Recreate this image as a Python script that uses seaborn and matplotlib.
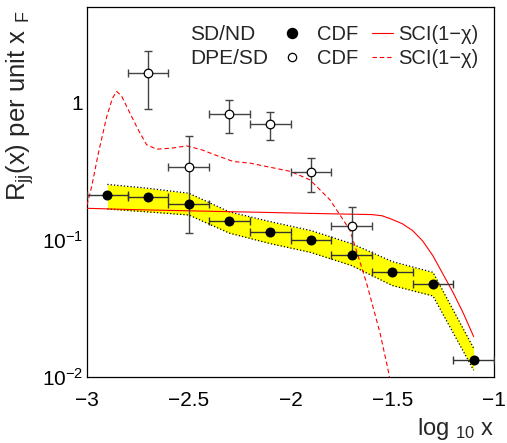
import numpy as np
import pandas as pd
import matplotlib
matplotlib.use("Agg")
import matplotlib.pyplot as plt
import matplotlib.ticker as mticker
from matplotlib.lines import Line2D
import seaborn as sns

# ---- data ----
# SD/ND, CDF (filled points)
sdnd_x = [-2.9, -2.7, -2.5, -2.3, -2.1, -1.9, -1.7, -1.5, -1.3, -1.1]
sdnd_y = [0.212, 0.204, 0.183, 0.138, 0.114, 0.100, 0.078, 0.058, 0.0477, 0.0134]
sdnd_xerr = [0.1] * 10

# systematic band around SD/ND
band_hi = [0.254, 0.238, 0.219, 0.160, 0.136, 0.117, 0.094, 0.0695, 0.058, 0.0162]
band_lo = [0.168, 0.160, 0.152, 0.112, 0.094, 0.081, 0.065, 0.0465, 0.039, 0.0112]

# DPE/SD, CDF (open points)
dpe_x = [-2.7, -2.5, -2.3, -2.1, -1.9, -1.7]
dpe_y = [1.66, 0.343, 0.827, 0.695, 0.312, 0.126]
dpe_hi = [2.40, 0.568, 1.057, 0.855, 0.399, 0.173]
dpe_lo = [0.904, 0.112, 0.604, 0.537, 0.222, 0.079]
dpe_xerr = [0.1] * 6

# SCI(1-chi) predictions
sci_sd_x = [-3.0, -2.75, -2.5, -2.15, -1.8, -1.6, -1.55, -1.5, -1.45, -1.4, -1.35,
            -1.3, -1.25, -1.2, -1.15, -1.1]
sci_sd_y = [0.170, 0.166, 0.163, 0.159, 0.155, 0.153, 0.150, 0.141, 0.131, 0.117,
            0.098, 0.0765, 0.056, 0.041, 0.029, 0.0197]

sci_dpe_x = [-3.0, -2.977, -2.944, -2.903, -2.875, -2.854, -2.83, -2.797, -2.748,
             -2.707, -2.657, -2.584, -2.51, -2.436, -2.371, -2.281, -2.199, -2.0,
             -1.904, -1.806, -1.708, -1.626, -1.56, -1.519, -1.51]
sci_dpe_y = [0.180, 0.245, 0.43, 0.794, 1.08, 1.21, 1.12, 0.889, 0.635,
             0.494, 0.459, 0.467, 0.485, 0.454, 0.417, 0.373, 0.363, 0.316,
             0.274, 0.196, 0.118, 0.0483, 0.0209, 0.011, 0.0092]

xticks = [-3, -2.5, -2, -1.5, -1]
xticklabels = ["\u22123", "\u22122.5", "\u22122", "\u22121.5", "\u22121"]
yticks = [0.01, 0.1, 1]
yticklabels = ["$10^{-2}$", "$10^{-1}$", "1"]

# ---- style ----
sns.set_style("white")
plt.rcParams["font.family"] = ["Liberation Sans", "DejaVu Sans"]
plt.rcParams["mathtext.default"] = "regular"

fig = plt.figure(figsize=(5.07, 4.43), dpi=100)
ax = fig.add_axes([0.1716, 0.149, 0.8028, 0.8352])

# yellow band with dotted edges
ax.fill_between(sdnd_x, band_lo, band_hi, color="#ffff00", lw=0, zorder=1)
sns.lineplot(x=sdnd_x, y=band_hi, color="black", lw=0.9, ls=":", ax=ax, zorder=2)
sns.lineplot(x=sdnd_x, y=band_lo, color="black", lw=0.9, ls=":", ax=ax, zorder=2)

# theory curves
sns.lineplot(x=sci_sd_x, y=sci_sd_y, color="red", lw=0.8, ax=ax, zorder=3)
sns.lineplot(x=sci_dpe_x, y=sci_dpe_y, color="red", lw=0.8, ax=ax, zorder=3,
             dashes=False)
ax.lines[-1].set_dashes((4, 2.6))

# data points
ax.errorbar(sdnd_x, sdnd_y, xerr=sdnd_xerr, fmt="none", ecolor="#333333",
            elinewidth=1.0, capsize=2.6, capthick=1.0, zorder=4)
sns.scatterplot(x=sdnd_x, y=sdnd_y, color="black", s=52, edgecolor="black",
                linewidth=0, ax=ax, zorder=5)

dpe_yerr = [np.array(dpe_y) - np.array(dpe_lo), np.array(dpe_hi) - np.array(dpe_y)]
ax.errorbar(dpe_x, dpe_y, xerr=dpe_xerr, yerr=dpe_yerr, fmt="none",
            ecolor="#444444", elinewidth=1.0, capsize=2.6, capthick=1.0, zorder=4)
sns.scatterplot(x=dpe_x, y=dpe_y, color="white", s=38, edgecolor="black",
                linewidth=0.9, ax=ax, zorder=5)

# ---- axes ----
ax.set_yscale("log")
ax.set_xlim(-3, -1)
ax.set_ylim(0.01, 5.0)
ax.set_xticks(xticks)
ax.set_xticklabels(xticklabels)
ax.xaxis.set_minor_locator(mticker.MultipleLocator(0.1))
ax.set_yticks(yticks)
ax.set_yticklabels(yticklabels)
ax.yaxis.set_minor_locator(mticker.LogLocator(base=10, subs=np.arange(2, 10)))
ax.yaxis.set_minor_formatter(mticker.NullFormatter())

ax.tick_params(which="both", direction="in", top=False, right=False,
               width=0.8, colors="black", labelsize=15)
ax.tick_params(axis="x", which="major", length=15.5, pad=10)
ax.tick_params(axis="x", which="minor", length=5.8)
ax.tick_params(axis="y", which="major", length=11.5, pad=3)
ax.tick_params(axis="y", which="minor", length=5.8)
for s in ax.spines.values():
    s.set_color("black")
    s.set_linewidth(0.9)

ax.set_ylabel("R$_{jj}$(x) per unit x $_F$", fontsize=18.5, loc="top")
ax.yaxis.set_label_coords(-0.125, 0.99)
ax.set_xlabel("log $_{10}$ x", fontsize=17, loc="right")
ax.xaxis.set_label_coords(1.0, -0.105)

# ---- legend ----
ax.text(0.253, 0.925, "SD/ND", transform=ax.transAxes, fontsize=15, va="center")
ax.text(0.253, 0.862, "DPE/SD", transform=ax.transAxes, fontsize=15, va="center")
h_pts = [Line2D([], [], ls="none", marker="o", ms=7.2, mfc="black", mec="black"),
         Line2D([], [], ls="none", marker="o", ms=6.0, mfc="white", mec="black", mew=0.9)]
leg1 = ax.legend(h_pts, ["CDF", "CDF"], loc="upper left", bbox_to_anchor=(0.489, 0.952),
                 frameon=False, fontsize=14.5, handlelength=0.6, handletextpad=0.95,
                 borderpad=0, borderaxespad=0, labelspacing=0.25)
ax.add_artist(leg1)
h_lines = [Line2D([], [], color="red", lw=0.8),
           Line2D([], [], color="red", lw=0.8, dashes=(4, 2.6))]
ax.legend(h_lines, ["SCI(1\u2212\u03c7)", "SCI(1\u2212\u03c7)"], loc="upper left",
          bbox_to_anchor=(0.6995, 0.952), frameon=False, fontsize=14.5,
          handlelength=1.05, handletextpad=0.25, borderpad=0, borderaxespad=0,
          labelspacing=0.25)

fig.savefig("out.png", dpi=100)
